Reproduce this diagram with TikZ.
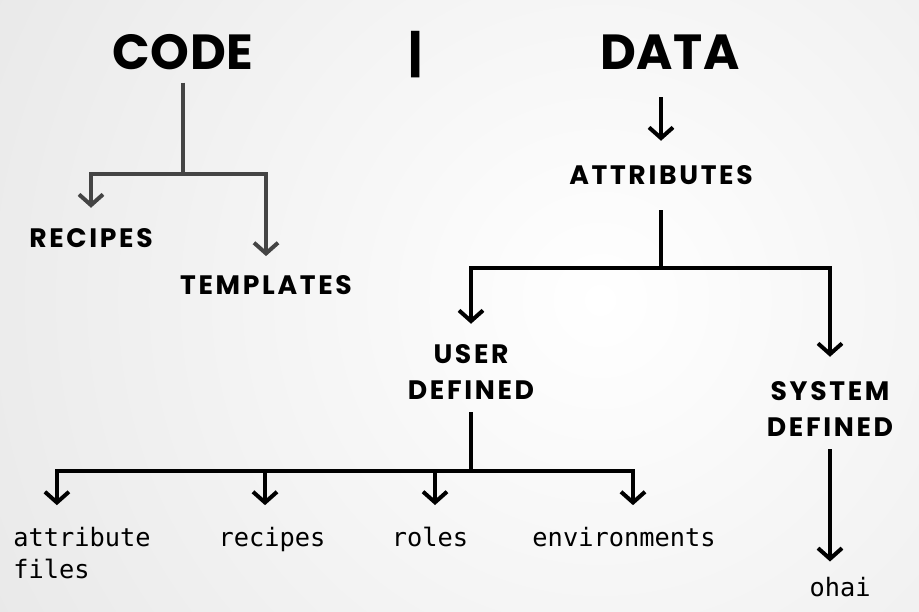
\documentclass[tikz,border=0pt]{standalone}
\usepackage{fontspec}
\usetikzlibrary{arrows.meta}
\newfontfamily\hdfont{Poppins}[LetterSpace=10]
\newfontfamily\bigfont{Poppins}[LetterSpace=1]
\newfontfamily\mymono{DejaVu Sans Mono}
\definecolor{codegray}{HTML}{444444}
\definecolor{bgedge}{HTML}{D2D2D2}
\begin{document}
\begin{tikzpicture}[x=0.75pt,y=-0.75pt,
  hd/.style={font=\hdfont\bfseries\fontsize{20pt}{27pt}\selectfont, inner sep=0pt, anchor=base, align=center},
  big/.style={font=\bigfont\bfseries\fontsize{37pt}{40pt}\selectfont, inner sep=0pt, anchor=base},
  mono/.style={font=\mymono\fontsize{19pt}{24pt}\selectfont, inner sep=0pt, anchor=base},
  gline/.style={draw=codegray, line width=3pt},
  bline/.style={draw=black, line width=3pt},
  tip/.style={-{Straight Barb[length=8pt,width=18pt]}}]
\useasboundingbox (0,0) rectangle (919,611);
\begin{scope}
\clip (0,0) rectangle (919,611);
\shade[inner color=white, outer color=bgedge] (-800,-1100) rectangle (2000,1700);
\end{scope}
% headers
\node[big] (code) at (183,69) {CODE};
\node[big] (sep) at (416,71) {|};
\node[big] (data) at (670,69) {DATA};
% code side
\node[hd] (recipes) at (91,247) {RECIPES};
\node[hd] (templates) at (266,294) {TEMPLATES};
\coordinate (c1) at (code.south |- 0,174);
\draw[gline] ([yshift=-9.75pt]code.south) -- (c1);
\draw[gline,tip] (c1) -| ([yshift=15pt]recipes.north);
\draw[gline,tip] (c1) -| ([yshift=14pt]templates.north);
% data side
\node[hd] (attributes) at (661,184) {ATTRIBUTES};
\draw[bline,tip] ([yshift=-21pt]attributes.north |- data.south) -- ([yshift=18pt]attributes.north);
\node[hd] (user) at (471,399) {USER\\DEFINED};
\node[hd] (system) at (830,436) {SYSTEM\\DEFINED};
\coordinate (a1) at (attributes.south |- 0,268);
\draw[bline] ([yshift=-19.5pt]attributes.south) -- (a1);
\draw[bline,tip] (a1) -| ([yshift=15pt]user.north);
\draw[bline,tip] (a1) -| ([yshift=18pt]system.north);
% leaves
\node[mono, anchor=base west, align=left] (attr) at (13,578) {attribute\\files};
\node[mono] (recipes2) at (272,546) {recipes};
\node[mono] (roles) at (430,546) {roles};
\node[mono] (env) at (624,546) {environments};
\node[mono] (ohai) at (840,596) {ohai};
\coordinate (u1) at (user.south |- 0,471);
\draw[bline] ([yshift=-9.75pt]user.south) -- (u1);
\draw[bline,tip] (u1) -| ([xshift=-18.75pt,yshift=16pt]attr.north);
\draw[bline,tip] (u1) -| ([xshift=-5.25pt,yshift=16pt]recipes2.north);
\draw[bline,tip] (u1) -| ([xshift=3.75pt,yshift=16pt]roles.north);
\draw[bline,tip] (u1) -| ([xshift=6.75pt,yshift=16pt]env.north);
\draw[bline,tip] ([yshift=-9.75pt]system.south) -- ([yshift=11.25pt]system.south |- ohai.north);
\end{tikzpicture}
\end{document}
